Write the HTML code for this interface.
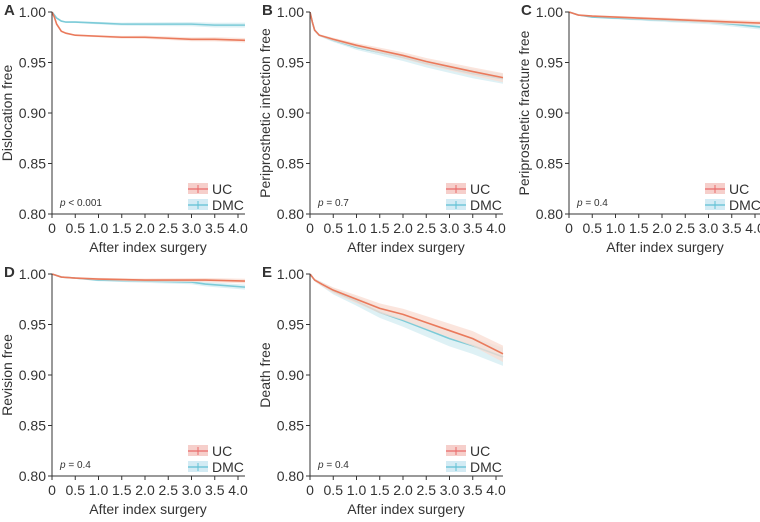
<!DOCTYPE html>
<html><head><meta charset="utf-8"><style>
body{margin:0;background:#fff;}
svg text{font-family:"Liberation Sans",sans-serif;fill:#333;}
</style></head><body>
<svg id="c" width="760" height="517" xmlns="http://www.w3.org/2000/svg"></svg>
<script>
const panelLetters=["A","B","C","D","E"];
const yTitles=["Dislocation free","Periprosthetic infection free","Periprosthetic fracture free","Revision free","Death free"];
const pTexts=["< 0.001","= 0.7","= 0.4","= 0.4","= 0.4"];
const yTicks=[0.80,0.85,0.90,0.95,1.00];
const xTicks=[0,0.5,1.0,1.5,2.0,2.5,3.0,3.5,4.0];
const timesA=[0,0.05,0.1,0.2,0.3,0.5,1,1.5,2,2.5,3,3.5,4.15];
const ucA=[1,0.995,0.988,0.981,0.979,0.977,0.976,0.975,0.975,0.974,0.973,0.973,0.972];
const dmcA=[1,0.997,0.994,0.991,0.990,0.990,0.989,0.988,0.988,0.988,0.988,0.987,0.987];
const timesB=[0,0.05,0.1,0.2,0.5,1,1.5,2,2.5,3,3.5,4.15];
const ucB=[1,0.99,0.982,0.977,0.973,0.967,0.962,0.957,0.951,0.946,0.941,0.935];
const dmcB=[1,0.99,0.982,0.977,0.972,0.965,0.960,0.955,0.949,0.944,0.939,0.934];
const timesC=[0,0.2,0.5,1,2,3,3.5,4.15];
const ucC=[1,0.997,0.996,0.995,0.993,0.991,0.990,0.989];
const dmcC=[1,0.997,0.995,0.994,0.992,0.990,0.988,0.985];
const timesD=[0,0.2,0.5,1,2,3,3.3,4.15];
const ucD=[1,0.997,0.996,0.995,0.994,0.994,0.994,0.993];
const dmcD=[1,0.997,0.996,0.994,0.993,0.992,0.990,0.987];
const timesE=[0,0.1,0.25,0.5,1,1.5,2,2.5,3,3.5,4.15];
const ucE=[1,0.994,0.99,0.984,0.975,0.966,0.960,0.952,0.944,0.936,0.921];
const dmcE=[1,0.994,0.99,0.983,0.973,0.962,0.954,0.945,0.936,0.929,0.918];
const panels=[
 {ox:52,oy:12,t:timesA,uc:ucA,dmc:dmcA,ci:0.0025},
 {ox:310,oy:12,t:timesB,uc:ucB,dmc:dmcB,ci:0.005},
 {ox:569,oy:12,t:timesC,uc:ucC,dmc:dmcC,ci:0.0025},
 {ox:52,oy:274,t:timesD,uc:ucD,dmc:dmcD,ci:0.0025},
 {ox:310,oy:274,t:timesE,uc:ucE,dmc:dmcE,ci:0.009}
];
const NS="http://www.w3.org/2000/svg";
const svg=document.getElementById('c');
function mk(tag,attrs,parent){const e=document.createElementNS(NS,tag);for(const k in attrs)e.setAttribute(k,attrs[k]);(parent||svg).appendChild(e);return e;}
const XS=46.5, YH=202;
panels.forEach((p,i)=>{
 const g=mk('g',{});
 
 
 const X=v=>p.ox+v*XS, Y=v=>p.oy+(1-v)/0.2*YH;
 const xEnd=X(4.15), yBot=Y(0.8);
 const lt=mk('text',{x:p.ox-48,y:p.oy+3,'font-size':15,'font-weight':'bold'},g);lt.textContent=panelLetters[i];
 
 
 [['dmc','#d3ecf1','#7ccbd8'],['uc','#f9dcd2','#ea7a5c']].forEach(([k,bc,lc])=>{
  const ci=k==='uc'?p.ci*0.9:p.ci;
  let up=p.t.map((t,j)=>X(t)+','+Y(Math.min(1,p[k][j]+ci*Math.sqrt(t/4.15))));
  let dn=p.t.map((t,j)=>X(t)+','+Y(p[k][j]-ci*Math.sqrt(t/4.15))).reverse();
  const b=mk('polygon',{points:up.concat(dn).join(' '),fill:bc,opacity:0.75},g);
  
  
  const l=mk('polyline',{points:p.t.map((t,j)=>X(t)+','+Y(p[k][j])).join(' '),fill:'none',stroke:lc,'stroke-width':1.6},g);
  
  
 });
 const ya=mk('line',{x1:p.ox,y1:p.oy,x2:p.ox,y2:yBot,stroke:'#333','stroke-width':1},g);
 
 
 const xa=mk('line',{x1:p.ox,y1:yBot,x2:xEnd,y2:yBot,stroke:'#333','stroke-width':1},g);
 
 
 yTicks.forEach(v=>{
  mk('line',{x1:p.ox-4,y1:Y(v),x2:p.ox,y2:Y(v),stroke:'#333'},g);
  const t=mk('text',{x:p.ox-6,y:Y(v)+5,'font-size':14,'text-anchor':'end'},g);t.textContent=v.toFixed(2);
  
  
 });
 xTicks.forEach(v=>{
  mk('line',{x1:X(v),y1:yBot,x2:X(v),y2:yBot+4,stroke:'#333'},g);
  const t=mk('text',{x:X(v),y:yBot+19,'font-size':14,'text-anchor':'middle'},g);t.textContent=v===0?'0':v.toFixed(1);
  
  
 });
 const xt=mk('text',{x:p.ox+96,y:yBot+38,'font-size':14,'text-anchor':'middle'},g);xt.textContent='After index surgery';
 
 
 const yt=mk('text',{x:0,y:0,'font-size':14,'text-anchor':'middle',transform:`translate(${p.ox-40},${p.oy+101}) rotate(-90)`},g);yt.textContent=yTitles[i];
 
 
 const pt=mk('text',{x:p.ox+8,y:yBot-8,'font-size':10},g);
 pt.innerHTML='<tspan font-style="italic">p</tspan> '+pTexts[i].replace('<','&lt;');
 
 
 [['UC','#f6cfcb','#ea6a6a',yBot-25],['DMC','#d3ebf4','#5fc0d4',yBot-9]].forEach(([n,bc,lc,yy])=>{
  const lg=mk('g',{},g);
  
  
  mk('rect',{x:p.ox+136,y:yy-6,width:20,height:11,fill:bc},lg);
  mk('line',{x1:p.ox+136,y1:yy,x2:p.ox+156,y2:yy,stroke:lc,'stroke-width':1.2},lg);
  mk('line',{x1:p.ox+146,y1:yy-4,x2:p.ox+146,y2:yy+4,stroke:lc,'stroke-width':1},lg);
  const t=mk('text',{x:p.ox+160,y:yy+5,'font-size':14},lg);t.textContent=n;
 });
});
</script>
</body></html>
